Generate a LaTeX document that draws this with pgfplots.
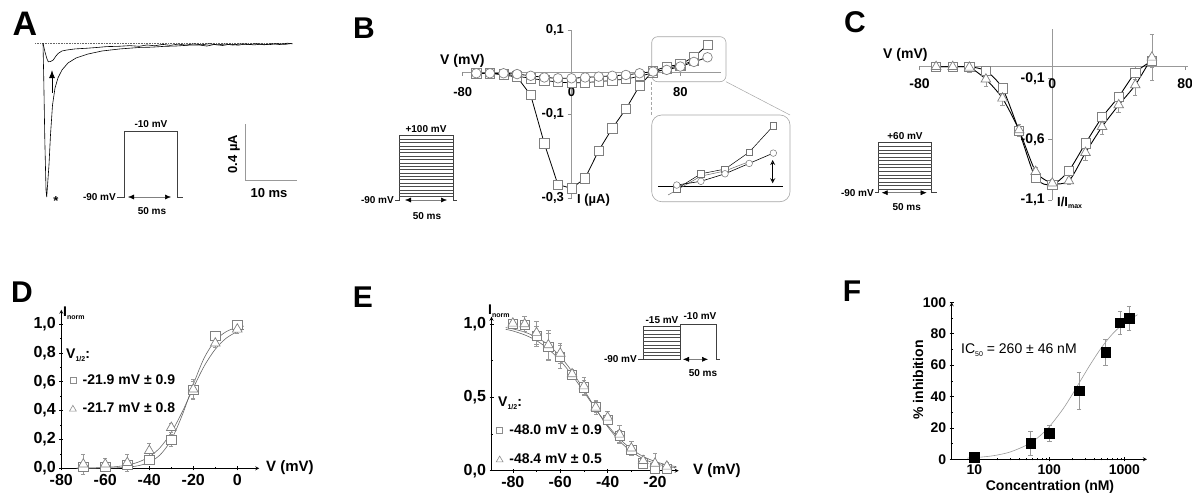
\documentclass[border=0pt]{standalone}
\usepackage{fontspec}
\setmainfont{Liberation Sans}
\usepackage{pgfplots}
\pgfplotsset{compat=1.18}
\usetikzlibrary{arrows.meta}
\newcommand{\fs}[1]{\fontsize{#1}{#1}\selectfont\bfseries}
\newcommand{\fn}[1]{\fontsize{#1}{#1}\selectfont}
\newcommand{\sub}[1]{\raisebox{-0.35ex}{\fontsize{7}{7}\selectfont #1}}
\pgfplotsset{
  panel/.style={scale only axis, anchor=south west, clip=false,
    /pgf/number format/assume math mode=true},
  sqm/.style={mark=square*, mark size=4.6pt, mark options={fill=white, draw=black!50, line width=0.7pt, solid}},
  trm/.style={mark=triangle*, mark size=5.6pt, mark options={fill=white, draw=black!50, line width=0.7pt, solid}},
  cim/.style={mark=*, mark size=4.8pt, mark options={fill=white, draw=black!50, line width=0.7pt, solid}},
  eb/.style={error bars/.cd, y dir=both, y explicit,
    error bar style={black!40, line width=0.5pt},
    error mark options={rotate=90, black!40, mark size=2.2pt, line width=0.5pt}, /pgfplots/.cd},
  ltick/.style={tick align=outside, major tick length=4pt, minor tick length=2pt,
    tick style={black, line width=0.6pt}, axis line style={black, line width=0.8pt, -}},
  mtick/.style={axis lines=middle, tick align=outside, major tick length=4pt,
    tick style={black!45, line width=0.6pt}, axis line style={black!40, line width=0.7pt, -},
    hide obscured x ticks=false, hide obscured y ticks=false}
}
\tikzset{dar/.style={black!50, line width=0.5pt, {Latex[length=6pt,width=5pt,color=black]}-{Latex[length=6pt,width=5pt,color=black]}},
  prot/.style={black!75, line width=0.6pt}}
\begin{document}
\begin{tikzpicture}
%================ overlay (labels, protocols) ================
\begin{axis}[at={(0pt,0pt)}, anchor=south west, scale only axis, width=1192pt, height=493pt,
  xmin=0, xmax=1192, ymin=0, ymax=493, y dir=reverse, hide axis, clip=false]
% panel letters
\node[font=\fs{34}] at (25,24) {A};
\node[font=\fs{30}] at (364,28) {B};
\node[font=\fs{30}] at (855,22) {C};
\node[font=\fs{30}] at (22,292) {D};
\node[font=\fs{30}] at (363,297) {E};
\node[font=\fs{30}] at (852,291) {F};
% ---- A protocol and scale bar
\draw[-{Latex[length=8pt,width=6pt]}, line width=1pt] (52,93) -- (52,70);
\node[font=\fs{13}] at (56,201) {*};
\draw[prot] (117,197) -- (124.5,197) -- (124.5,131.5) -- (177,131.5) -- (177,197) -- (183,197);
\draw[dar] (128,197) -- (171,197);
\node[font=\fs{10}] at (151,124) {-10 mV};
\node[font=\fs{10}, anchor=east, inner sep=1pt] at (117,197) {-90 mV};
\node[font=\fs{10}] at (152,211) {50 ms};
\draw[black!40, line width=0.7pt] (245,124) -- (245,180) -- (297,180);
\node[font=\fs{13}, rotate=90] at (234,154) {0.4 µA};
\node[font=\fs{13}] at (269,193) {10 ms};
% ---- B protocol
\draw[prot] (395,200) -- (399.3,200) -- (399.3,135.7) -- (453.3,135.7) -- (453.3,200) -- (457,200);
\pgfplotsinvokeforeach{1,...,18}{\draw[black!70, line width=0.4pt] (399.3,{135.7+#1*3.38}) -- (453.3,{135.7+#1*3.38});}
\draw[dar] (405,200) -- (447,200);
\node[font=\fs{10}] at (426,129) {+100 mV};
\node[font=\fs{10}, anchor=east, inner sep=1pt] at (395,200) {-90 mV};
\node[font=\fs{10}] at (427,216) {50 ms};
\node[font=\fs{14}, anchor=west, inner sep=0pt] at (440,61) {V (mV)};
\node[font=\fs{13}, anchor=west, inner sep=0pt] at (577,200) {I (µA)};
% B inset frames
\draw[black!35, line width=0.6pt, rounded corners=6pt] (651.7,36.7) rectangle (726,81.7);
\draw[black!35, line width=0.6pt, rounded corners=10pt] (651.7,115) rectangle (790,201.7);
\draw[black!35, line width=0.5pt, densely dashed] (651.7,81.7) -- (651.7,115);
\draw[black!35, line width=0.5pt] (726,81.7) -- (790,115);
\draw[black, line width=0.8pt] (658.3,186) -- (783.3,186);
\draw[black, line width=0.7pt, {Stealth[length=5pt,width=5pt,open]}-{Stealth[length=5pt,width=5pt,open]}] (772.7,160) -- (772.7,183.3);
% ---- C protocol
\draw[prot] (875,192.7) -- (878.3,192.7) -- (878.3,142.7) -- (931.7,142.7) -- (931.7,192.7) -- (936.7,192.7);
\pgfplotsinvokeforeach{1,...,13}{\draw[black!70, line width=0.4pt] (878.3,{142.7+#1*3.57}) -- (931.7,{142.7+#1*3.57});}
\draw[dar] (881.7,192.7) -- (926.7,192.7);
\node[font=\fs{10}] at (905,136.5) {+60 mV};
\node[font=\fs{10}, anchor=east, inner sep=1pt] at (875,192.7) {-90 mV};
\node[font=\fs{10}] at (906.7,206.7) {50 ms};
\node[font=\fs{14}, anchor=west, inner sep=0pt] at (883,55) {V (mV)};
\node[font=\fs{13}, anchor=west, inner sep=0pt] at (1057,203) {I/I\sub{max}};
% ---- D labels
\node[font=\fs{14}, anchor=west, inner sep=0pt] at (63,313) {I\sub{norm}};
\node[font=\fs{15}, anchor=west, inner sep=0pt] at (266,468) {V (mV)};
\node[font=\fs{14}, anchor=west, inner sep=0pt] at (66,355) {V\sub{1/2}:};
% ---- E labels and protocol
\node[font=\fs{14}, anchor=west, inner sep=0pt] at (488,311) {I\sub{norm}};
\node[font=\fs{15}, anchor=west, inner sep=0pt] at (693,470.7) {V (mV)};
\node[font=\fs{14}, anchor=west, inner sep=0pt] at (498,403) {V\sub{1/2}:};
\draw[prot] (638,359.3) -- (643,359.3) -- (643,326.7) -- (680,326.7) -- (680,359.3);
\pgfplotsinvokeforeach{1,...,8}{\draw[black!70, line width=0.4pt] (643,{326.7+#1*3.62}) -- (680,{326.7+#1*3.62});}
\draw[prot] (643,359.3) -- (680,359.3) -- (680,324) -- (716.7,324) -- (716.7,359.3) -- (720,359.3);
\draw[dar] (683,359.3) -- (708,359.3);
\node[font=\fs{10}] at (662,320) {-15 mV};
\node[font=\fs{10}] at (700,316.5) {-10 mV};
\node[font=\fs{10}, anchor=east, inner sep=1pt] at (638,359.3) {-90 mV};
\node[font=\fs{10}] at (703,373) {50 ms};
% ---- F labels
\node[font=\fs{14}, rotate=90] at (918,380) {\% inhibition};
\node[font=\fs{14}] at (1050,487) {Concentration (nM)};
\node[font=\fn{14}, anchor=west, inner sep=0pt] at (961,350) {IC\sub{50} = 260 ± 46 nM};
\end{axis}

%================ A: current traces ================
\begin{axis}[panel, at={(32.6pt,284.7pt)}, width=270.4pt, height=178.75pt,
  xmin=-2, xmax=50, ymin=-1.2, ymax=0.1, hide axis]
\addplot[black!60, densely dotted, line width=0.6pt] coordinates {(-1.5,0) (48,0)};
\addplot[black, line width=0.6pt] coordinates {
(0,0) (0.15,-0.267) (0.35,-0.704) (0.58,-1.067) (0.71,-1.118) (0.88,-1.03) (1.15,-0.885)
(1.44,-0.667) (1.83,-0.449) (2.31,-0.325) (2.88,-0.252) (3.65,-0.194) (4.81,-0.143)
(6.35,-0.107) (8.65,-0.078) (11.35,-0.056) (14.8,-0.041) (18.65,-0.030) (21,-0.028) (23.4,-0.022)
(25.5,-0.02) (28.3,-0.013) (30,-0.012) (31.5,-0.02) (33,-0.008) (34.5,-0.016) (36,-0.006)
(37.5,-0.014) (39,-0.004) (40.5,-0.012) (42,-0.006) (43.5,-0.01) (45,-0.002) (46.5,-0.008) (47.5,-0.003)};
\addplot[black, line width=0.6pt] coordinates {
(0,0) (0.38,-0.063) (0.77,-0.114) (1.02,-0.134) (1.44,-0.133) (1.98,-0.121) (2.5,-0.092)
(2.94,-0.073) (3.65,-0.056) (4.56,-0.049) (6.15,-0.041) (8.4,-0.036) (10.5,-0.03) (12.25,-0.024)
(14.5,-0.022) (16.7,-0.017) (18.5,-0.022) (20,-0.012) (21.5,-0.018) (23,-0.008) (24.5,-0.015)
(26,-0.006) (27.5,-0.013) (29,-0.004) (30.5,-0.011) (32,-0.003) (33.5,-0.012) (35,-0.005)
(36.5,-0.013) (38,-0.004) (39.5,-0.01) (41,-0.002) (42.5,-0.011) (44,-0.003) (45.5,-0.009)
(47,0.001) (48,-0.004)};
\end{axis}

%================ B: I-V ================
\begin{axis}[panel, mtick, at={(462.7pt,295pt)}, width=258.4pt, height=168pt,
  xmin=-80, xmax=110, ymin=-0.3, ymax=0.1,
  xtick={-80,0,80}, xticklabels={-80,0,80},
  ytick={-0.3,-0.1,0.1}, yticklabels={{-0,3},{-0,1},{0,1}},
  tick label style={font=\fs{13}, black},
  xticklabel style={yshift=-8pt}]
\addplot[black, line width=0.7pt, sqm] table {
x y
-70 -0.003
-60 -0.003
-50 -0.004
-40 -0.010
-30 -0.015
-20 -0.020
-10 -0.024
0 -0.026
10 -0.025
20 -0.023
30 -0.020
40 -0.017
50 -0.010
60 -0.002
70 0.008
80 0.016
90 0.027
};
\addplot[black, line width=0.8pt, sqm] table {
x y
-70 -0.003
-60 -0.003
-50 -0.007
-40 -0.012
-30 -0.055
-20 -0.170
-10 -0.268
0 -0.277
10 -0.253
20 -0.187
30 -0.134
40 -0.088
50 -0.033
60 0.002
70 0.013
80 0.018
90 0.036
100 0.064
};
\addplot[black, line width=0.8pt, cim] table {
x y
-70 -0.003
-60 -0.003
-50 -0.003
-40 -0.005
-30 -0.009
-20 -0.013
-10 -0.015
0 -0.015
10 -0.013
20 -0.011
30 -0.009
40 -0.007
50 -0.003
60 0.001
70 0.005
80 0.013
90 0.024
100 0.035
};
\end{axis}

% B inset (zoom of positive voltages)
\begin{axis}[panel, at={(657.4pt,297.6pt)}, width=125.6pt, height=75.2pt,
  xmin=52, xmax=104, ymin=-0.01, ymax=0.07, hide axis]
\addplot[black!60, line width=0.5pt] coordinates {(56.4,-0.0096) (70,0.0105) (80,0.016) (90,0.026)};
\addplot[black, line width=0.5pt, mark=square*, mark size=3.3pt, mark options={fill=white, draw=black!55, line width=0.5pt}]
  coordinates {(60,-0.003) (70,0.013) (80,0.018) (90,0.036) (100,0.064)};
\addplot[black, line width=0.6pt, mark=*, mark size=3.3pt, mark options={fill=white, draw=black!55, line width=0.5pt}]
  coordinates {(60,0.001) (70,0.005) (80,0.013) (90,0.024) (100,0.035)};
\end{axis}

%================ C: normalized I-V ================
\begin{axis}[panel, mtick, at={(919.5pt,292.8pt)}, width=268.9pt, height=170.8pt,
  xmin=-80, xmax=82, ymin=-1.1, ymax=0.3,
  xtick={-80,0,80}, xticklabels={-80,0,80},
  ytick={-1.1,-0.6,-0.1}, yticklabels={{-1,1},{-0,6},{-0,1}},
  tick label style={font=\fs{14}, black},
  xticklabel style={yshift=-5pt}]
\addplot[black, line width=0.9pt, smooth, tension=0.4, sqm, eb] table[x index=0, y index=1, y error index=2] {
x y e
-70 -0.006 0.03
-60 -0.006 0.02
-50 -0.006 0.03
-40 -0.039 0.03
-30 -0.183 0.03
-20 -0.533 0.04
-10 -0.920 0.03
0 -0.975 0.02
10 -0.858 0.03
20 -0.634 0.04
30 -0.420 0.04
40 -0.252 0.04
50 -0.055 0.05
60 0.043 0.05
};
\addplot[black, line width=0.9pt, smooth, tension=0.4, trm, eb] table[x index=0, y index=1, y error index=2] {
x y e
-70 -0.006 0.04
-60 -0.006 0.03
-50 -0.011 0.04
-40 -0.109 0.06
-30 -0.265 0.06
-20 -0.525 0.05
-10 -0.866 0.04
0 -0.961 0.03
10 -0.943 0.03
20 -0.711 0.06
30 -0.498 0.06
40 -0.320 0.06
50 -0.156 0.08
60 0.071 0.19
};
\end{axis}

%================ D: activation ================
\begin{axis}[panel, ltick, axis lines=left, at={(61.3pt,24.7pt)}, width=198pt, height=158.6pt,
  xmin=-80, xmax=10, ymin=0, ymax=1.1,
  xtick={-80,-60,-40,-20,0}, xticklabels={-80,-60,-40,-20,0}, minor x tick num=1,
  ytick={0,0.2,0.4,0.6,0.8,1}, yticklabels={{0,0},{0,2},{0,4},{0,6},{0,8},{1,0}}, minor y tick num=1,
  tick label style={font=\fs{16}},
  legend style={at={(axis cs:-76.5,0.665)}, anchor=north west, draw=none, fill=none,
    font=\fs{14}, row sep=13pt, column sep=4pt, inner sep=0pt},
  legend cell align=left]
\addlegendimage{legend image code/.code={\draw[black!45, line width=0.6pt] (-3pt,-3pt) rectangle (3pt,3pt);}}
\addlegendentry{-21.9 mV ± 0.9}
\addlegendimage{legend image code/.code={\draw[black!45, line width=0.6pt] (-3.4pt,-2.6pt) -- (3.4pt,-2.6pt) -- (0pt,3.2pt) -- cycle;}}
\addlegendentry{-21.7 mV ± 0.8}
\addplot[black!60, line width=0.6pt, smooth, forget plot] coordinates {
(-73,0.0002) (-70,0.0003) (-65,0.0006) (-60,0.0014) (-55,0.0033) (-50,0.0078) (-45,0.018)
(-40,0.042) (-35,0.0945) (-30,0.198) (-25,0.370) (-20,0.581) (-15,0.767) (-10,0.886)
(-5,0.948) (0,0.978) (3,0.986)};
\addplot[black!60, line width=0.6pt, smooth, forget plot] coordinates {
(-73,0.0011) (-70,0.0016) (-65,0.0031) (-60,0.006) (-55,0.0117) (-50,0.0225) (-45,0.043)
(-40,0.080) (-35,0.145) (-30,0.249) (-25,0.392) (-20,0.557) (-15,0.710) (-10,0.826)
(-5,0.903) (0,0.948) (3,0.964)};
\addplot[forget plot, only marks, sqm, eb] table[x index=0, y index=1, y error index=2] {
x y e
-70 0.011 0.02
-60 0.011 0.02
-50 0.023 0.02
-40 0.058 0.02
-30 0.196 0.04
-20 0.543 0.06
-10 0.917 0.03
0 0.997 0.01
};
\addplot[forget plot, only marks, trm, eb] table[x index=0, y index=1, y error index=2] {
x y e
-70 0.028 0.07
-60 0.028 0.04
-50 0.039 0.06
-40 0.122 0.05
-30 0.282 0.03
-20 0.548 0.07
-10 0.867 0.03
0 0.964 0.03
};
\end{axis}

%================ E: inactivation ================
\begin{axis}[panel, ltick, axis lines=left, at={(491.5pt,22.3pt)}, width=187.2pt, height=154pt,
  xmin=-89, xmax=-10, ymin=0, ymax=1.05,
  xtick={-80,-60,-40,-20}, xticklabels={-80,-60,-40,-20}, minor x tick num=1,
  ytick={0,0.5,1}, yticklabels={{0,0},{0,5},{1,0}}, minor y tick num=1,
  tick label style={font=\fs{16}},
  legend style={at={(axis cs:-87.2,0.331)}, anchor=north west, draw=none, fill=none,
    font=\fs{14}, row sep=14pt, column sep=4pt, inner sep=0pt},
  legend cell align=left]
\addlegendimage{legend image code/.code={\draw[black!45, line width=0.6pt] (-3pt,-3pt) rectangle (3pt,3pt);}}
\addlegendentry{-48.0 mV ± 0.9}
\addlegendimage{legend image code/.code={\draw[black!45, line width=0.6pt] (-3.4pt,-2.6pt) -- (3.4pt,-2.6pt) -- (0pt,3.2pt) -- cycle;}}
\addlegendentry{-48.4 mV ± 0.5}
\addplot[black!60, line width=0.6pt, smooth, forget plot] coordinates {
(-83,0.9755) (-80,0.967) (-75,0.945) (-70,0.910) (-65,0.857) (-60,0.779) (-55,0.676)
(-50,0.552) (-45,0.422) (-40,0.301) (-35,0.203) (-30,0.131) (-25,0.0816) (-20,0.0499)
(-15,0.030) (-11,0.020)};
\addplot[black!60, line width=0.6pt, smooth, forget plot] coordinates {
(-83,0.964) (-80,0.953) (-75,0.926) (-70,0.887) (-65,0.829) (-60,0.751) (-55,0.652)
(-50,0.538) (-45,0.420) (-40,0.310) (-35,0.218) (-30,0.148) (-25,0.0972) (-20,0.0627)
(-15,0.0399) (-11,0.0276)};
\addplot[forget plot, only marks, sqm, eb] table[x index=0, y index=1, y error index=2] {
x y e
-80 1.0 0.01
-75 0.995 0.02
-70 0.918 0.07
-65 0.845 0.09
-60 0.777 0.08
-55 0.652 0.03
-50 0.568 0.05
-45 0.436 0.04
-40 0.346 0.03
-35 0.237 0.04
-30 0.141 0.03
-25 0.05 0.03
-20 0.016 0.03
-15 0.012 0.02
};
\addplot[forget plot, only marks, trm, eb] table[x index=0, y index=1, y error index=2] {
x y e
-80 1.005 0.02
-75 1.0 0.05
-70 0.94 0.08
-65 0.857 0.1
-60 0.80 0.07
-55 0.659 0.03
-50 0.577 0.06
-45 0.432 0.05
-40 0.364 0.04
-35 0.248 0.06
-30 0.153 0.05
-25 0.068 0.04
-20 0.05 0.07
-15 0.03 0.03
};
\end{axis}

%================ F: dose-response ================
\begin{axis}[panel, ltick, axis lines=left, at={(951.7pt,33.7pt)}, width=195.2pt, height=157pt,
  xmode=log, xmin=5, xmax=2000, ymin=0, ymax=100,
  xtick={10,100,1000}, xticklabels={10,100,1000},
  ytick={0,20,40,60,80,100}, yticklabels={0,20,40,60,80,100}, minor y tick num=1,
  tick label style={font=\fs{14}}]
\addplot[black!40, line width=0.6pt, smooth] coordinates {
(8,0.76) (10,1.03) (15,1.81) (20,2.68) (30,4.64) (50,9.05) (70,13.7) (100,20.8) (150,31.6)
(200,40.9) (260,50) (350,60.2) (500,71.4) (700,80.0) (1000,86.8) (1500,92.1)};
\addplot[only marks, mark=square*, mark size=4.7pt, black, eb] table[x index=0, y index=1, y error index=2] {
c p e
10 1.3 0.5
56 10.2 7.7
100 16.6 5.1
250 43.7 11.7
560 68.2 8.5
870 87.0 7.4
1160 89.8 7.4
};
\end{axis}
\pgfresetboundingbox
\path[use as bounding box] (0pt,0pt) rectangle (1192pt,493pt);
\end{tikzpicture}
\end{document}
